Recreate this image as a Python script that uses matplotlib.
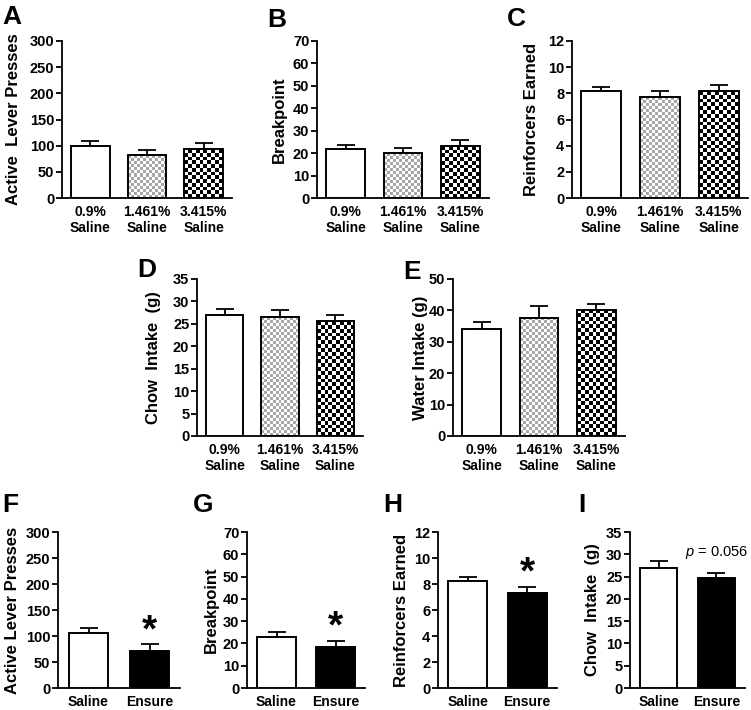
import numpy as np
import matplotlib
matplotlib.use("Agg")
import matplotlib.pyplot as plt
from matplotlib.colors import ListedColormap

plt.rcParams['font.family'] = ['Liberation Sans', 'DejaVu Sans']
plt.rcParams['mathtext.fontset'] = 'custom'
plt.rcParams['mathtext.it'] = 'Liberation Sans:italic'
plt.rcParams['mathtext.rm'] = 'Liberation Sans'

# group labels
salt_groups = ['0.9%\nSaline', '1.461%\nSaline', '3.415%\nSaline']
diet_groups = ['Saline', 'Ensure']

# top rows: salt concentration (mean, sem)
lever_salt = [100, 82, 93]
lever_salt_err = [8, 9.5, 12]
bp_salt = [21.7, 19.9, 23.0]
bp_salt_err = [1.8, 2.5, 3.0]
reinf_salt = [8.15, 7.7, 8.15]
reinf_salt_err = [0.3, 0.45, 0.47]
chow_salt = [26.9, 26.5, 25.6]
chow_salt_err = [1.4, 1.5, 1.3]
water_salt = [34.2, 37.6, 40.2]
water_salt_err = [2.1, 3.8, 1.7]

# bottom row: saline vs ensure
lever_diet = [106, 72]
lever_diet_err = [9, 13]
bp_diet = [23.0, 18.5]
bp_diet_err = [2.0, 2.7]
reinf_diet = [8.26, 7.3]
reinf_diet_err = [0.3, 0.5]
chow_diet = [27.0, 24.6]
chow_diet_err = [1.4, 1.3]

W, H = 751, 710
fig = plt.figure(figsize=(W / 100, H / 100), dpi=100)


def px_rect(x0, x1, ytop, ybot):
    return [x0 / W, 1 - ybot / H, (x1 - x0) / W, (ybot - ytop) / H]


def checker_fill(ax, patch, cell, c1, c2):
    x0 = patch.get_x()
    w = patch.get_width()
    h = patch.get_height()
    p0 = ax.transData.transform((x0, 0))
    p1 = ax.transData.transform((x0 + w, h))
    nx = max(1, int(round((p1[0] - p0[0]) / cell)))
    ny = max(1, int(round((p1[1] - p0[1]) / cell)))
    grid = np.add.outer(np.arange(ny), np.arange(nx)) % 2
    im = ax.imshow(grid, extent=(x0, x0 + w, 0, h), cmap=ListedColormap([c1, c2]),
                   interpolation='nearest', aspect='auto', origin='lower', zorder=2)
    im.set_clip_path(patch)


def panel(rect, labels, means, errs, fills, ylabel, ymax, ystep, lab_off, barw):
    ax = fig.add_axes(px_rect(*rect))
    x = np.arange(len(means))
    ax.set_xlim(-0.5, len(means) - 0.5)
    ax.set_ylim(0, ymax)
    ax.errorbar(x, means, yerr=[np.zeros(len(errs)), errs], fmt='none', ecolor='black',
                elinewidth=1.3, capsize=6.5, capthick=1.3, zorder=1)
    faces = ['none' if f in ('light', 'dark') else f for f in fills]
    bars = ax.bar(x, means, barw, color=faces, edgecolor='black', linewidth=1.4, zorder=3)
    for b, f in zip(bars, fills):
        if f == 'light':
            checker_fill(ax, b, 3.0, '#ffffff', '#a6a6a6')
        elif f == 'dark':
            checker_fill(ax, b, 3.8, '#ffffff', '#000000')
    ax.set_xlim(-0.5, len(means) - 0.5)
    ax.set_ylim(0, ymax)
    ax.set_yticks(np.arange(0, ymax + ystep / 2, ystep))
    ax.set_xticks(x)
    ax.set_xticklabels(labels, fontsize=10, fontweight='bold', linespacing=1.15)
    for t in ax.get_yticklabels():
        t.set_fontweight('bold')
    ax.tick_params(axis='x', length=0, pad=5)
    ax.tick_params(axis='y', direction='out', length=4, width=1.3, labelsize=10.5, pad=1.5)
    for s in ['top', 'right']:
        ax.spines[s].set_visible(False)
    for s in ['left', 'bottom']:
        ax.spines[s].set_linewidth(1.3)
    ax.set_ylabel(ylabel, fontsize=12, fontweight='bold')
    ax.yaxis.set_label_coords(lab_off / (rect[1] - rect[0]), 0.5)
    return ax


fills3 = ['white', 'light', 'dark']
fills2 = ['white', 'black']

# row 1
panel((62, 232, 41, 198), salt_groups, lever_salt, lever_salt_err, fills3,
      'Active  Lever Presses', 300, 50, -41.5, 0.68)
panel((317, 489, 41, 198), salt_groups, bp_salt, bp_salt_err, fills3,
      'Breakpoint', 70, 10, -30.5, 0.68)
panel((572, 748, 41, 198), salt_groups, reinf_salt, reinf_salt_err, fills3,
      'Reinforcers Earned', 12, 2, -33.5, 0.68)

# row 2
panel((197, 363, 279, 436), salt_groups, chow_salt, chow_salt_err, fills3,
      'Chow  Intake  (g)', 35, 5, -36.5, 0.68)
panel((453, 625, 279, 436), salt_groups, water_salt, water_salt_err, fills3,
      'Water Intake (g)', 50, 10, -25.5, 0.68)

# row 3
axF = panel((58, 180, 532, 688), diet_groups, lever_diet, lever_diet_err, fills2,
            'Active Lever Presses', 300, 50, -37.5, 0.65)
axG = panel((247, 365, 532, 688), diet_groups, bp_diet, bp_diet_err, fills2,
            'Breakpoint', 70, 10, -28.5, 0.65)
axH = panel((438, 557, 532, 688), diet_groups, reinf_diet, reinf_diet_err, fills2,
            'Reinforcers Earned', 12, 2, -29.5, 0.65)
axI = panel((630, 745, 532, 688), diet_groups, chow_diet, chow_diet_err, fills2,
            'Chow  Intake  (g)', 35, 5, -29.5, 0.65)

for ax, m, e in [(axF, lever_diet, lever_diet_err), (axG, bp_diet, bp_diet_err),
                 (axH, reinf_diet, reinf_diet_err)]:
    ax.annotate('*', xy=(1, m[1] + e[1]), xytext=(0, 2), textcoords='offset points',
                ha='center', va='baseline', fontsize=28, fontweight='bold')
axI.annotate('$p$ = 0.056', xy=(1, chow_diet[1] + chow_diet_err[1]), xytext=(0, 8),
             textcoords='offset points', ha='center', va='bottom', fontsize=10.5)

letters = [('A', 2, 5), ('B', 267, 8), ('C', 507, 7), ('D', 137, 258), ('E', 403, 260),
           ('F', 2, 493), ('G', 193, 493), ('H', 383, 493), ('I', 578, 493)]
for s, lx, ly in letters:
    fig.text(lx / W, 1 - ly / H, s, fontsize=19, fontweight='bold', ha='left', va='top')

fig.savefig('out.png', dpi=100)
